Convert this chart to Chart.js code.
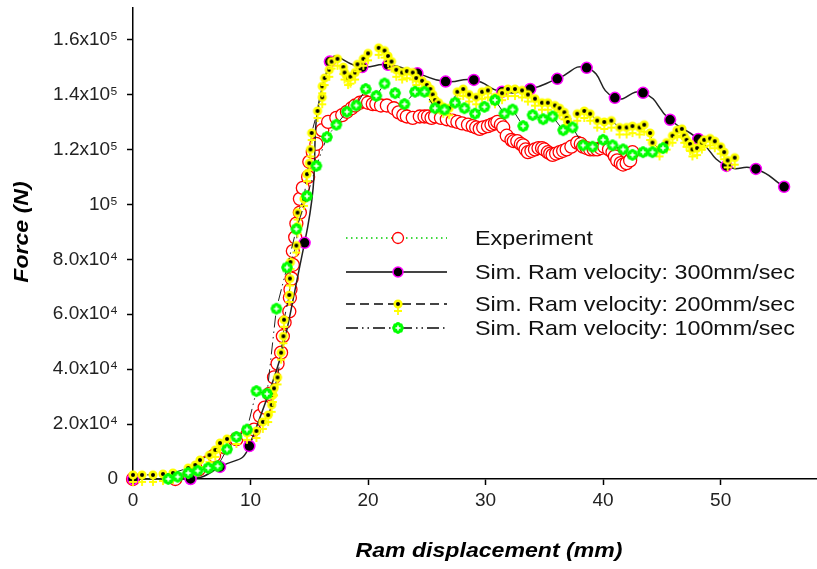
<!DOCTYPE html>
<html>
<head>
<meta charset="utf-8">
<script src="https://cdn.jsdelivr.net/npm/chart.js@4.4.1/dist/chart.umd.min.js"></script>
<style>
  html, body { margin: 0; padding: 0; background: #fff; }
  #wrap { width: 817px; height: 569px; }
</style>
</head>
<body>
<div id="wrap"><canvas id="forceChart" width="817" height="569"></canvas></div>
<script>
// Experiment (displacement mm, force N)
const expX = [0, 3.6, 4.8, 5.6, 6.3, 6.9, 7.8, 8.8, 9.7, 10.3, 10.8, 11.2, 11.6, 12.0, 12.3, 12.6, 12.75, 12.9, 13.3, 13.35, 13.4, 13.5,
  13.6, 13.6, 13.8, 13.9, 14.2, 14.2, 14.45, 14.9, 15.0, 15.3, 15.6, 16.1, 16.6, 17.3, 17.8, 18.2, 18.6, 18.9, 19.3, 19.7, 20.0, 20.4,
  20.7, 21.1, 21.6, 22.2, 22.6, 23.0, 23.3, 23.8, 24.4, 24.8, 25.1, 25.4, 25.7, 26.2, 26.7, 27.2, 27.6, 28.0, 28.5, 28.9, 29.2, 29.5,
  29.8, 30.2, 30.5, 30.8, 31.0, 31.3, 31.5, 31.8, 32.2, 32.4, 32.7, 33.0, 33.2, 33.4, 33.6, 33.9, 34.2, 34.5, 34.8, 35.0, 35.3, 35.5,
  35.7, 36.0, 36.3, 36.6, 36.9, 37.3, 37.8, 38.1, 38.3, 38.6, 38.9, 39.2, 39.5, 39.8, 40.1, 40.5, 40.8, 41.0, 41.2, 41.5, 41.7, 42.0,
  42.3, 42.5];
const expY = [0, 0, 1500, 3500, 6000, 8500, 11500, 14500, 16000, 18000, 23000, 26000, 31000, 37000, 42000, 46000, 52000, 57000, 61000, 66000, 69000, 73000,
  78000, 83000, 88000, 93000, 97000, 102000, 106000, 110000, 115500, 119000, 122000, 127000, 130000, 131500, 132500, 133700, 135000, 136000, 137000, 137500, 137000, 136500,
  136500, 136000, 136000, 135000, 133500, 132500, 132000, 131500, 132000, 132000, 132000, 131500, 132000, 131500, 131000, 130500, 130000, 129500, 129000, 128500, 128000, 127500,
  128000, 128500, 129000, 129500, 130000, 129000, 128000, 125000, 123500, 123000, 123000, 122000, 121500, 120000, 119000, 119500, 120000, 120500, 120500, 120000, 119000, 118500,
  118000, 118500, 119000, 119500, 120000, 121000, 122500, 122000, 121000, 120500, 120000, 120000, 120000, 120500, 121000, 120000, 119000, 117500, 116000, 115000, 114500, 115000,
  116000, 119000];

// Sim. ram velocity 300 mm/sec
const v300X = [0, 4.9, 7.4, 9.9, 14.6, 16.75, 19.5, 21.7, 24.2, 26.6, 29.0, 31.4, 33.8, 36.1, 38.6, 41.0, 43.4, 45.7, 48.1, 50.5, 53.0, 55.4];
const v300Y = [0, 0, 4400, 12000, 86000, 152000, 150000, 150800, 147700, 144700, 145300, 141000, 142000, 145700, 149700, 138800, 140600, 130800, 123800, 114000, 112900, 106400];

// Sim. ram velocity 200 mm/sec
const v200X = [0, 0.77, 1.7, 2.55, 3.4, 4.7, 5.3, 5.7, 6.5, 7.0, 7.4, 8.0, 8.8, 9.7, 10.5, 11.05, 11.5, 11.8, 11.9, 12.0, 12.3, 12.6, 12.8, 12.85,
  13.3, 13.35, 13.4, 13.9, 14.0, 14.0, 14.55, 14.8, 15.0, 15.1, 15.2, 15.7, 16.1, 16.1, 16.3, 16.7, 16.9, 17.4, 17.9, 18.0, 18.3, 18.5, 18.9,
  19.1, 19.6, 20.0, 20.9, 21.4, 21.7, 22.0, 22.4, 22.9, 23.3, 23.8, 24.1, 24.6, 25.0, 25.3, 25.5, 25.7, 26.0, 26.4, 26.9, 27.6, 28.1, 28.6,
  29.2, 29.7, 30.2, 30.8, 31.4, 31.9, 32.5, 33.1, 33.6, 34.2, 34.8, 35.3, 35.9, 36.3, 36.7, 36.9, 37.0, 37.8, 38.4, 38.9, 39.5, 40.1, 40.7,
  41.4, 42.0, 42.5, 43.1, 43.5, 44.0, 44.2, 44.8, 45.4, 45.9, 46.3, 46.7, 46.9, 47.1, 47.4, 47.6, 48.0, 48.4, 48.6, 49.1, 49.5, 50.0, 50.3,
  50.6, 51.2];
const v200Y = [1500, 1500, 1500, 1800, 2200, 4000, 5100, 6900, 8700, 10600, 13100, 14600, 15300, 16800, 17500, 20800, 23300, 27000, 30600, 33000, 37000, 46000, 52000, 58000,
  67000, 73000, 79000, 85000, 92000, 97000, 102000, 111000, 115000, 120000, 126000, 134000, 139000, 143000, 146000, 149000, 152000, 153000, 150000, 148000, 146000, 146500, 148000,
  151000, 153000, 155000, 157000, 156000, 154000, 152000, 149000, 148000, 148500, 148000, 146000, 145000, 143500, 142000, 140000, 138000, 137000, 135500, 135000, 141000, 142000, 140000,
  139000, 141000, 141500, 139000, 140500, 142000, 142000, 141500, 140000, 138500, 137000, 137000, 136000, 135000, 133500, 131500, 130000, 133000, 134000, 133000, 130500, 130000, 130500,
  128000, 128000, 128500, 128000, 129000, 126000, 122500, 120000, 122500, 125000, 127000, 127500, 125000, 123500, 122000, 120000, 120500, 122500, 123500, 124000, 123000, 121000, 119000,
  116000, 117000];

// Sim. ram velocity 100 mm/sec
const v100X = [3.0, 3.8, 4.7, 5.5, 6.4, 7.2, 8.0, 8.8, 9.7, 10.5, 11.4, 12.2, 13.1, 13.9, 14.8, 15.6, 16.5, 17.3, 18.2, 19.0, 19.8, 20.7, 21.4,
  22.3, 23.1, 24.0, 24.8, 25.7, 26.5, 27.4, 28.2, 29.1, 29.9, 30.8, 31.6, 32.3, 33.2, 34.0, 34.9, 35.7, 36.6, 37.4, 38.3, 39.1, 40.0, 40.8,
  41.7, 42.5, 43.4, 44.2, 45.1];
const v100Y = [0, 800, 2200, 3000, 4000, 4700, 10800, 15300, 18000, 32000, 31000, 62000, 77000, 91000, 103000, 114000, 124500, 129000, 133700, 136000, 142000, 139500, 144000,
  140500, 136500, 141000, 141000, 135000, 134500, 137000, 135000, 133000, 135500, 138000, 133000, 134500, 128500, 132500, 131000, 132000, 127000, 128000, 121500, 121000, 123500, 121500,
  120000, 118000, 119000, 119000, 120500];

const xTicks = [0, 10, 20, 30, 40, 50];
const yTicks = [0, 20000, 40000, 60000, 80000, 100000, 120000, 140000, 160000];

const legendLabels = [
  'Experiment',
  'Sim. Ram velocity: 300mm/sec',
  'Sim. Ram velocity: 200mm/sec',
  'Sim. Ram velocity: 100mm/sec'
];

const FONT = '"Liberation Sans", Arial, sans-serif';

function pairs(xs, ys) {
  return xs.map((x, i) => ({ x: x, y: ys[i] }));
}

function makeMarker(w, h, draw) {
  const c = document.createElement('canvas');
  c.width = w;
  c.height = h;
  draw(c.getContext('2d'), w / 2, h / 2);
  return c;
}

// black dot with yellow rim and yellow cross beneath
const dotCross = makeMarker(14, 28, (ctx, cx, cy) => {
  ctx.strokeStyle = '#ffff00';
  ctx.lineWidth = 1.8;
  ctx.beginPath();
  ctx.moveTo(cx - 4, cy + 7); ctx.lineTo(cx + 4, cy + 7);
  ctx.moveTo(cx, cy + 3); ctx.lineTo(cx, cy + 11);
  ctx.stroke();
  ctx.beginPath();
  ctx.arc(cx, cy, 3.3, 0, Math.PI * 2);
  ctx.fillStyle = '#000';
  ctx.fill();
  ctx.lineWidth = 2.6;
  ctx.stroke();
});

// green flower with white cross
const greenFlower = makeMarker(16, 16, (ctx, cx, cy) => {
  ctx.fillStyle = '#00ff00';
  ctx.beginPath();
  ctx.arc(cx, cy, 4.5, 0, Math.PI * 2);
  ctx.fill();
  for (let k = 0; k < 8; k++) {
    const a = k * Math.PI / 4;
    ctx.beginPath();
    ctx.arc(cx + Math.cos(a) * 3.5, cy + Math.sin(a) * 3.5, 2.4, 0, Math.PI * 2);
    ctx.fill();
  }
  ctx.strokeStyle = '#fff';
  ctx.lineWidth = 1.5;
  ctx.beginPath();
  ctx.moveTo(cx - 2.5, cy); ctx.lineTo(cx + 2.5, cy);
  ctx.moveTo(cx, cy - 2.5); ctx.lineTo(cx, cy + 2.5);
  ctx.stroke();
});

function drawStretched(ctx, text, x, y, sx) {
  ctx.save();
  ctx.translate(x, y);
  ctx.scale(sx, 1);
  ctx.fillText(text, 0, 0);
  ctx.restore();
}

const legendAndTitles = {
  id: 'legendAndTitles',
  afterDraw(chart) {
    const ctx = chart.ctx;
    ctx.save();

    // axis titles
    ctx.fillStyle = '#000';
    ctx.font = 'italic bold 21px ' + FONT;
    ctx.textAlign = 'center';
    ctx.textBaseline = 'middle';
    drawStretched(ctx, 'Ram displacement (mm)', 489, 551, 1.1);
    ctx.save();
    ctx.translate(22, 232);
    ctx.rotate(-Math.PI / 2);
    drawStretched(ctx, 'Force (N)', 0, 0, 1.1);
    ctx.restore();

    // legend
    const rows = [238, 272, 304, 328];
    const dashes = [[1.5, 3.5], [], [9, 5], [12, 4, 1.5, 4, 1.5, 4]];
    rows.forEach((y, i) => {
      ctx.save();
      ctx.beginPath();
      ctx.setLineDash(dashes[i]);
      ctx.strokeStyle = i === 0 ? '#00cc00' : '#444';
      ctx.lineWidth = i === 0 ? 1.5 : 2;
      ctx.moveTo(346, y);
      ctx.lineTo(447, y);
      ctx.stroke();
      ctx.restore();

      if (i === 0) {
        ctx.beginPath();
        ctx.arc(398, y, 5.5, 0, Math.PI * 2);
        ctx.fillStyle = '#fff';
        ctx.fill();
        ctx.strokeStyle = '#ff0000';
        ctx.lineWidth = 1.3;
        ctx.stroke();
      } else if (i === 1) {
        ctx.beginPath();
        ctx.arc(398, y, 5, 0, Math.PI * 2);
        ctx.fillStyle = '#000';
        ctx.fill();
        ctx.strokeStyle = '#ff00ff';
        ctx.lineWidth = 1.5;
        ctx.stroke();
      } else if (i === 2) {
        ctx.drawImage(dotCross, 398 - dotCross.width / 2, y - dotCross.height / 2);
      } else {
        ctx.drawImage(greenFlower, 398 - greenFlower.width / 2, y - greenFlower.height / 2);
      }

      ctx.fillStyle = '#111';
      ctx.font = '21px ' + FONT;
      ctx.textAlign = 'left';
      ctx.textBaseline = 'middle';
      drawStretched(ctx, legendLabels[i], 475, y + 1, 1.11);
    });

    ctx.restore();
  }
};

function forceLabel(v) {
  if (v === 0) return '0';
  if (v === 100000) return '10\u2075';
  if (v < 100000) return (v / 10000).toFixed(1) + 'x10\u2074';
  return (v / 100000).toFixed(1) + 'x10\u2075';
}

// keep the plot box where the reference has it
function noScalePadding(scale) {
  scale.paddingTop = 0;
  scale.paddingBottom = 0;
  scale.paddingLeft = 0;
  scale.paddingRight = 0;
}

const ctx = document.getElementById('forceChart').getContext('2d');

new Chart(ctx, {
  type: 'scatter',
  data: {
    datasets: [
      {
        label: legendLabels[0],
        data: pairs(expX, expY),
        showLine: true,
        borderColor: '#00cc00',
        borderWidth: 1,
        borderDash: [1.5, 3.5],
        pointStyle: 'circle',
        pointRadius: 6.5,
        pointBorderWidth: 1.3,
        pointBorderColor: '#ff0000',
        pointBackgroundColor: '#ffffff',
        order: 3,
        clip: false
      },
      {
        label: legendLabels[1],
        data: pairs(v300X, v300Y),
        showLine: true,
        borderColor: '#222',
        borderWidth: 1.5,
        tension: 0.55,
        pointStyle: 'circle',
        pointRadius: 5.5,
        pointBorderWidth: 1.5,
        pointBorderColor: '#ff00ff',
        pointBackgroundColor: '#000000',
        order: 2,
        clip: false
      },
      {
        label: legendLabels[2],
        data: pairs(v200X, v200Y),
        showLine: true,
        borderColor: '#222',
        borderWidth: 1,
        borderDash: [9, 5],
        pointStyle: dotCross,
        order: 1,
        clip: false
      },
      {
        label: legendLabels[3],
        data: pairs(v100X, v100Y),
        showLine: true,
        borderColor: '#222',
        borderWidth: 1,
        borderDash: [12, 4, 1.5, 4, 1.5, 4],
        pointStyle: greenFlower,
        order: 0,
        clip: false
      }
    ]
  },
  options: {
    responsive: false,
    animation: false,
    layout: { autoPadding: false, padding: { top: 8, right: 0, left: 0, bottom: 0 } },
    plugins: {
      legend: { display: false },
      tooltip: { enabled: false }
    },
    scales: {
      x: {
        type: 'linear',
        min: 0,
        max: 58.2,
        afterFit: (scale) => { scale.height = 90; noScalePadding(scale); },
        afterBuildTicks: (scale) => { scale.ticks = xTicks.map(v => ({ value: v })); },
        border: { display: true, color: '#000', width: 1.5 },
        grid: { drawOnChartArea: false, drawTicks: true, tickLength: 6, tickColor: '#000', tickWidth: 1.5 },
        ticks: {
          color: '#222',
          font: { family: FONT, size: 19 },
          padding: 4,
          maxRotation: 0,
          callback: (v) => String(v)
        }
      },
      y: {
        type: 'linear',
        min: 0,
        max: 171500,
        afterFit: (scale) => { scale.width = 133; noScalePadding(scale); },
        afterBuildTicks: (scale) => { scale.ticks = yTicks.map(v => ({ value: v })); },
        border: { display: true, color: '#000', width: 1.5 },
        grid: { drawOnChartArea: false, drawTicks: true, tickLength: 6, tickColor: '#000', tickWidth: 1.5 },
        ticks: {
          color: '#222',
          font: { family: FONT, size: 19 },
          padding: 9,
          callback: (v) => forceLabel(v)
        }
      }
    }
  },
  plugins: [legendAndTitles]
});
</script>
</body>
</html>
